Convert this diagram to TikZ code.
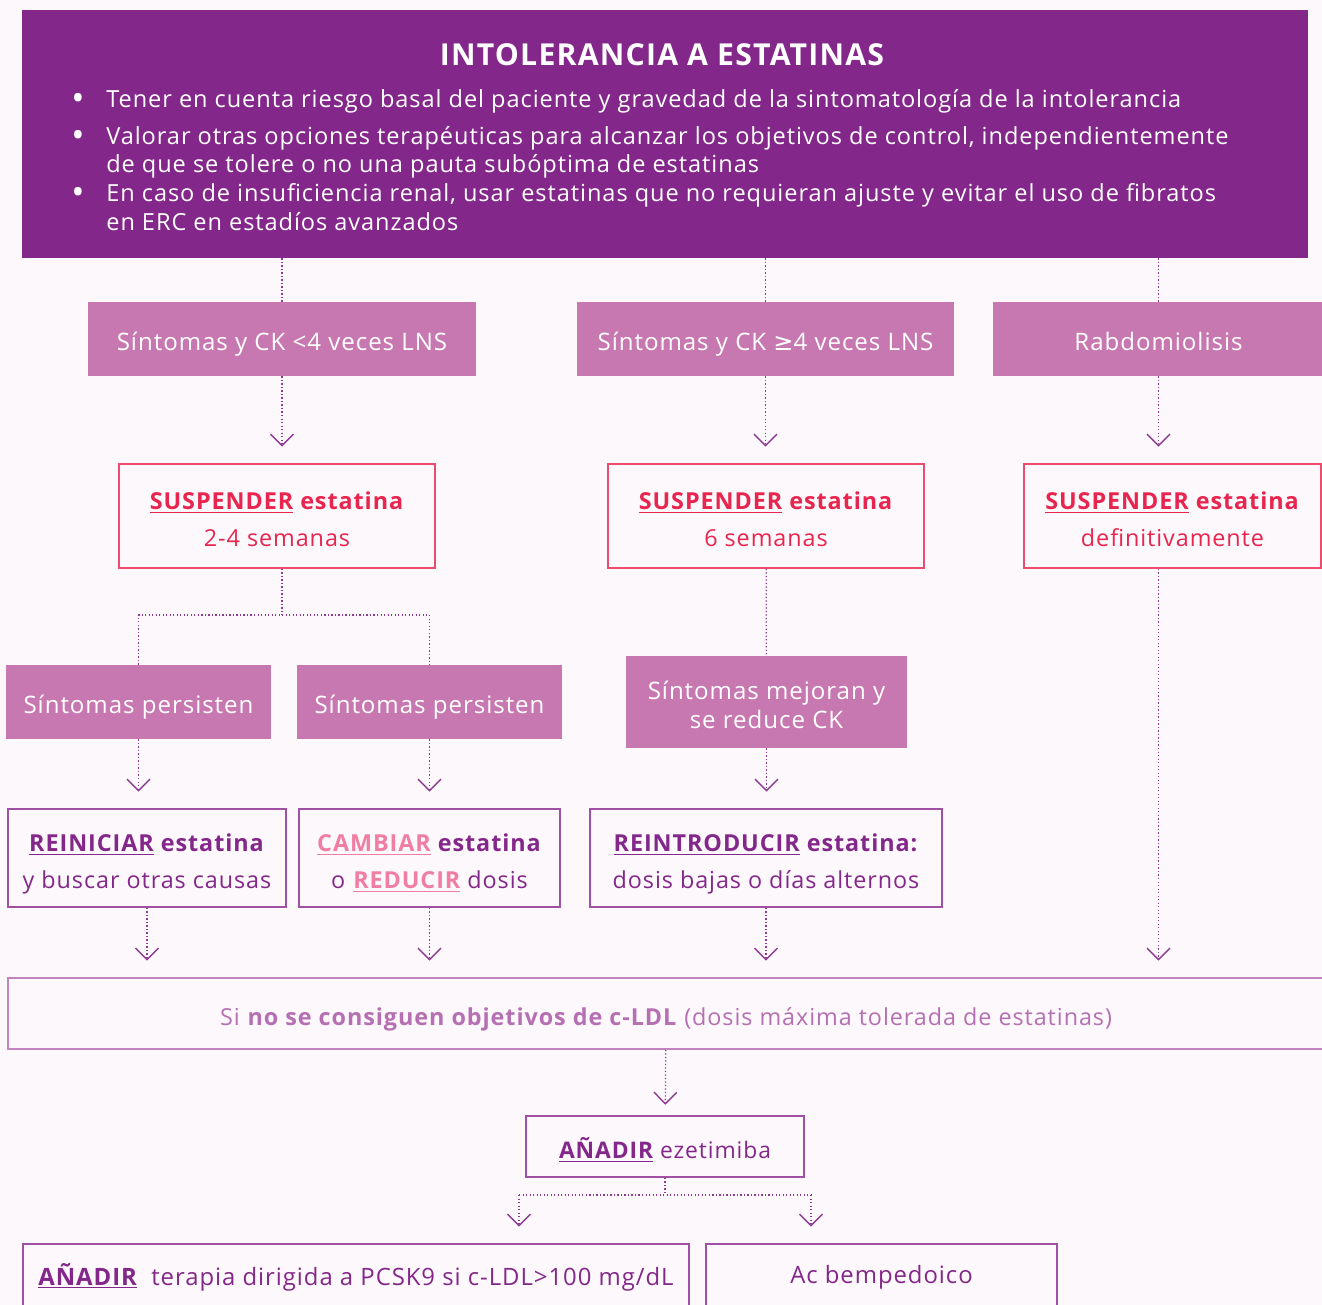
\documentclass[tikz,border=0pt]{standalone}
\usepackage{fontspec}
\setmainfont{Open Sans}[LetterSpace=4]
\newfontfamily\symfont{DejaVu Sans}
\usepackage{tikz}
\usetikzlibrary{arrows.meta,positioning}
\usepackage{xcolor}
\definecolor{ihbg}{RGB}{253,248,251}
\definecolor{ihpurple}{RGB}{132,39,138}
\definecolor{ihpurplelt}{RGB}{160,80,165}
\definecolor{ihpink}{RGB}{200,120,176}
\definecolor{ihred}{RGB}{238,76,110}
\definecolor{ihredtext}{RGB}{232,37,79}
\definecolor{ihrose}{RGB}{240,126,163}
\definecolor{ihgoal}{RGB}{181,111,178}
\definecolor{ihgoalline}{RGB}{195,131,191}
\definecolor{ihline}{RGB}{142,58,148}
\newcommand{\titlefont}{\fontsize{17.2}{20}\selectfont\bfseries}
\newcommand{\headfont}{\fontsize{13.4}{16}\selectfont}
\newcommand{\casefont}{\fontsize{13.7}{16.5}\selectfont}
\newcommand{\boxfont}{\fontsize{13.3}{21}\selectfont}
% struts: first line height, last line depth
\newcommand{\topstrut}{\rule{0pt}{18.6pt}}
\newcommand{\botstrut}{\rule[-5pt]{0pt}{5pt}}
\tikzstyle{headbox} = [rectangle, fill=ihpurple, inner sep=0pt]
\tikzstyle{headline} = [anchor=base west, inner sep=0pt, text=white, font=\headfont]
\tikzstyle{dot} = [inner sep=0pt, text=white, font=\fontsize{20}{20}\selectfont]
\tikzstyle{oneline} = [execute at begin node=\topstrut\botstrut]
\tikzstyle{casebox} = [rectangle, fill=ihpink, text=white, inner sep=0pt, align=center, font=\casefont]
\tikzstyle{stopbox} = [rectangle, draw=ihred, line width=0.9pt, text=ihredtext, inner sep=0pt, align=center, font=\boxfont]
\tikzstyle{actbox} = [rectangle, draw=ihpurplelt, line width=0.9pt, text=ihpurple, inner sep=0pt, align=center, font=\boxfont]
\tikzstyle{link} = [draw=ihline, line width=0.7pt, dash pattern=on 0.7pt off 1.3pt]
\tikzstyle{flowarrow} = [link, -{Straight Barb[length=6.5pt,width=13pt,line width=0.8pt]}, shorten >=9.5pt]

\begin{document}
\begin{tikzpicture}[x=0.02cm, y=-0.02cm]
\fill[ihbg] (0,0) rectangle (1322,1305);
\useasboundingbox (0,0) rectangle (1322,1305);

% Header
\node[headbox, minimum width=25.72cm, minimum height=4.96cm] (head) at (665,134) {};
\node[text=white, font=\titlefont] (title) at (662,55) {INTOLERANCIA A ESTATINAS};
\node[dot] (d1) at (78,102) {•};
\node[dot] (d2) at (78,139) {•};
\node[dot] (d3) at (78,196) {•};
\node[headline] (h1) at (106,107) {Tener en cuenta riesgo basal del paciente y gravedad de la sintomatología de la intolerancia};
\node[headline] (h2) at (106,144) {Valorar otras opciones terapéuticas para alcanzar los objetivos de control, independientemente};
\node[headline] (h3) at (106,172) {de que se tolere o no una pauta subóptima de estatinas};
\node[headline] (h4) at (106,201) {En caso de insuficiencia renal, usar estatinas que no requieran ajuste y evitar el uso de fibratos};
\node[headline] (h5) at (106,230) {en ERC en estadíos avanzados};

% First level: cases
\node[casebox, oneline, minimum width=7.76cm, minimum height=1.48cm] (s1) at (282,339) {Síntomas y CK <4 veces LNS};
\node[casebox, oneline, minimum width=7.54cm, minimum height=1.48cm] (s2) at (765.5,339) {Síntomas y CK {\symfont ≥}4 veces LNS};
\node[casebox, oneline, minimum width=6.62cm, minimum height=1.48cm] (s3) at (1158.5,339) {Rabdomiolisis};

% Suspend
\node[stopbox, minimum width=6.32cm, minimum height=2.08cm] (r1) at (277,516) {\topstrut\textbf{\underline{SUSPENDER} estatina}\\2-4 semanas\botstrut};
\node[stopbox, minimum width=6.32cm, minimum height=2.08cm] (r2) at (766,516) {\topstrut\textbf{\underline{SUSPENDER} estatina}\\6 semanas\botstrut};
\node[stopbox, minimum width=5.94cm, minimum height=2.08cm] (r3) at (1172.5,516) {\topstrut\textbf{\underline{SUSPENDER} estatina}\\definitivamente\botstrut};

% Second level
\coordinate (j1) at (282,615);
\node[casebox, oneline, minimum width=5.3cm, minimum height=1.48cm] (p1) at (138.5,702) {Síntomas persisten};
\node[casebox, oneline, minimum width=5.3cm, minimum height=1.48cm] (p2) at (429.5,702) {Síntomas persisten};
\node[casebox, minimum width=5.62cm, minimum height=1.84cm] (m2) at (766.5,702) {\topstrut Síntomas mejoran y\\se reduce CK\botstrut};

% Actions
\node[actbox, minimum width=5.56cm, minimum height=1.96cm] (q1) at (147,858) {\topstrut\textbf{\underline{REINICIAR} estatina}\\y buscar otras causas\botstrut};
\node[actbox, minimum width=5.22cm, minimum height=1.96cm] (q2) at (429.5,858) {\topstrut\textbf{\textcolor{ihrose}{\underline{CAMBIAR}} estatina}\\o \textbf{\textcolor{ihrose}{\underline{REDUCIR}}} dosis\botstrut};
\node[actbox, minimum width=7.04cm, minimum height=1.96cm] (q3) at (766,858) {\topstrut\textbf{\underline{REINTRODUCIR} estatina:}\\dosis bajas o días alternos\botstrut};

% Goal not reached
\node[rectangle, draw=ihgoalline, line width=0.9pt, text=ihgoal, inner sep=0pt, font=\boxfont, oneline, minimum width=26.32cm, minimum height=1.42cm] (goal) at (666,1013.5) {Si \textbf{no se consiguen objetivos de c-LDL} (dosis máxima tolerada de estatinas)};
\node[actbox, oneline, font=\fontsize{13}{16}\selectfont, minimum width=5.56cm, minimum height=1.22cm] (eze) at (665,1146.5) {\textbf{\underline{AÑADIR}} ezetimiba};
\coordinate (j2) at (665,1195);
\coordinate (jl) at (519,1195);
\coordinate (jr) at (811,1195);
\node[actbox, font=\fontsize{13.6}{16}\selectfont, minimum width=13.32cm, minimum height=1.32cm] (f1) at (356,1277) {\textbf{\underline{AÑADIR}}\ \ terapia dirigida a PCSK9 si c-LDL>100 mg/dL};
\node[actbox, font=\fontsize{13.6}{16}\selectfont, minimum width=7.02cm, minimum height=1.32cm] (f2) at (881.5,1277) {Ac bempedoico};

% Connectors
\draw[link] (head.south -| s1) -- (s1.north);
\draw[link] (head.south -| s2) -- (s2.north);
\draw[link] (head.south -| s3) -- (s3.north);
\draw[flowarrow] (s1) -- (s1 |- r1.north);
\draw[flowarrow] (s2) -- (s2 |- r2.north);
\draw[flowarrow] (s3) -- (s3 |- r3.north);
\draw[link] (r1.south -| j1) -- (j1);
\draw[link] (p1.north) |- (j1) -| (p2.north);
\draw[link] (r2) -- (m2);
\draw[flowarrow] (p1) -- (p1 |- q1.north);
\draw[flowarrow] (p2) -- (p2 |- q2.north);
\draw[flowarrow] (m2) -- (m2 |- q3.north);
\draw[flowarrow] (q1) -- (q1 |- goal.north);
\draw[flowarrow] (q2) -- (q2 |- goal.north);
\draw[flowarrow] (q3) -- (q3 |- goal.north);
\draw[flowarrow] (r3.south -| s3) -- (s3 |- goal.north);
\draw[flowarrow, shorten >=6pt] (goal) -- (eze);
\draw[link] (eze) -- (j2);
\draw[link] (jl) -- (jr);
\draw[flowarrow] (jl) -- (jl |- f1.north);
\draw[flowarrow] (jr) -- (jr |- f2.north);
\end{tikzpicture}
\end{document}
